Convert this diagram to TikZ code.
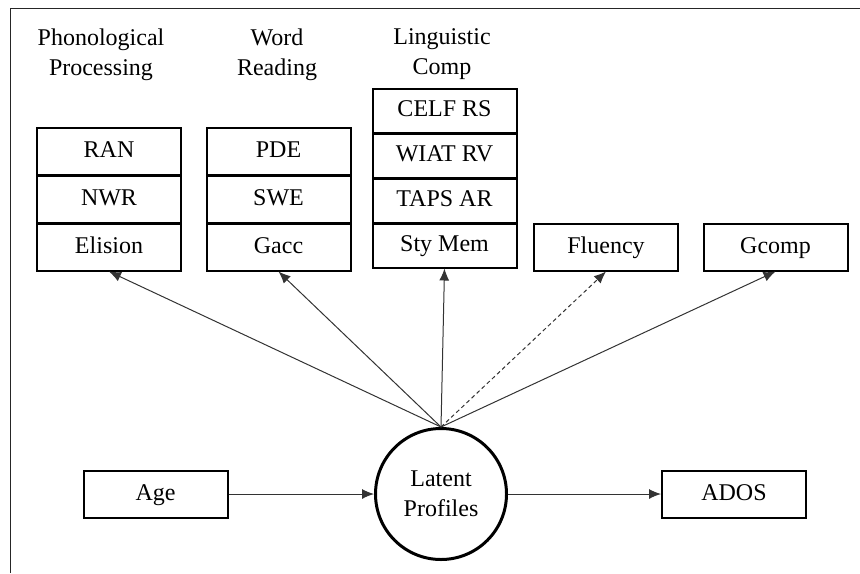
\documentclass[tikz,border=0pt]{standalone}
\usepackage{fontspec}
\setmainfont{Liberation Serif}
\usetikzlibrary{arrows, positioning, arrows.meta}

\begin{document}
\begin{tikzpicture}[
    % GLOBAL CFG
    x=0.5pt, y=-0.5pt,
    font=\fontsize{12}{15}\selectfont,
    >={Latex[length=6pt,width=5pt]},
    % Styles
    measure/.style={% For the observed boxes
        rectangle,
        draw,
        line width=1pt,
        minimum width=72pt,
        minimum height=23.5pt,
        inner sep=0pt,
        text height=8.5pt,
        text depth=2.5pt,
        },
    lmeasure/.style={% For the rows of the taller stack
        measure,
        minimum height=22pt,
        },
    latent/.style={% For the latent variable
        circle,
        draw,
        line width=1.5pt,
        minimum size=65.5pt,
        inner sep=0pt,
        align=center,
        },
    heading/.style={% Group titles
        align=center,
        anchor=north,
        inner sep=0pt,
        },
    ArrowS/.style={% Plain paths
        ->,
        line width=0.5pt,
        black!80,
        },
    ArrowD/.style={% Dashed path
        ArrowS,
        dash pattern=on 2pt off 1.5pt,
        },
    ]

\useasboundingbox (0,0) rectangle (860,573);

%Start drawing the thing...
    % Frame
    \coordinate (fbl) at (10.5,573);
    \coordinate (ftl) at (10.5,8.5);
    \coordinate (ftr) at (860,8.5);
    \draw [line width=0.8pt, black!85] (fbl) -- (ftl) -- (ftr);

    % Group titles
    \node [heading] (tphon) at (101,28.5) {Phonological\\Processing};
    \node [heading] (tword) at (277,28.5) {Word\\Reading};
    \node [heading] (tling) at (442,28.5) {Linguistic\\Comp};

    % Phonological processing stack
    \node [measure] (ran) at (109,151) {RAN};
    \node [measure] (nwr) at (109,199) {NWR};
    \node [measure] (elision) at (109,247) {Elision};

    % Word reading stack
    \node [measure] (pde) at (278.5,151) {PDE};
    \node [measure] (swe) at (278.5,199) {SWE};
    \node [measure] (gacc) at (278.5,247) {Gacc};

    % Linguistic comp stack
    \node [lmeasure] (celf) at (444.5,110.5) {CELF RS};
    \node [lmeasure] (wiat) at (444.5,155.5) {WIAT RV};
    \node [lmeasure] (taps) at (444.5,200.5) {TAPS AR};
    \node [lmeasure] (stymem) at (444.5,245.5) {Sty Mem};

    % Single boxes
    \node [measure] (fluency) at (606,247) {Fluency};
    \node [measure] (gcomp) at (775.5,247) {Gcomp};
    \node [measure] (age) at (155.5,494) {Age};
    \node [measure] (ados) at (734,494) {ADOS};

    % Latent profiles
    \node [latent] (lp) at (441,494) {Latent\\Profiles};

% Start connecting all.
    \draw [ArrowS] (lp.north) -- (elision.south);
    \draw [ArrowS] (lp.north) -- (gacc.south);
    \draw [ArrowS] (lp.north) -- (stymem.south);
    \draw [ArrowD] (lp.north) -- (fluency.south);
    \draw [ArrowS] (lp.north) -- (gcomp.south);

    \draw [ArrowS] (age) -- (lp);
    \draw [ArrowS] (lp) -- (ados);

\end{tikzpicture}
\end{document}
